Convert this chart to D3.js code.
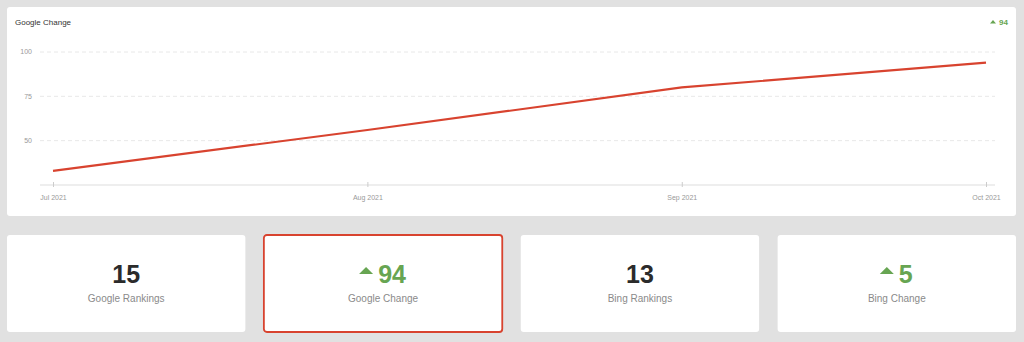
<!DOCTYPE html>
<html>
<head>
<meta charset="utf-8">
<script src="https://cdn.jsdelivr.net/npm/d3@7"></script>
<style>
  body { margin: 0; background: #e1e1e1; font-family: "Liberation Sans", Arial, sans-serif; }
  svg { display: block; }
</style>
</head>
<body>
<svg id="chart" width="1024" height="342"></svg>
<script>
// data
const months = ['2021-07-01', '2021-08-01', '2021-09-01', '2021-10-01']
const googleChange = [33, 56, 80, 94]
const yTicks = [50, 75, 100]
const cardLabels = ['Google Rankings', 'Google Change', 'Bing Rankings', 'Bing Change']
const cardValues = [15, 94, 13, 5]
const cardIsChange = [false, true, false, true]

const red = '#d8432f'
const green = '#67a552'
const parse = d3.timeParse('%Y-%m-%d')

const svg = d3.select('#chart')

// top panel
svg.append('rect')
  .attr('x', 7).attr('y', 7)
  .attr('width', 1009).attr('height', 209)
  .attr('rx', 3)
  .attr('fill', '#fff')

svg.append('text')
  .attr('x', 15).attr('y', 25)
  .attr('fill', '#333')
  .style('font-size', '8px')
  .text('Google Change')

const last = googleChange[googleChange.length - 1]
const hdr = svg.append('g').attr('transform', 'translate(1008,25)')
hdr.append('text')
  .attr('text-anchor', 'end')
  .attr('fill', green)
  .style('font-size', '8px')
  .style('font-weight', 'bold')
  .text(last)
hdr.append('path')
  .attr('d', 'M-18,-1.5 L-12,-1.5 L-15,-5 Z')
  .attr('fill', green)

const x = d3.scaleTime()
  .domain([parse(months[0]), parse(months[months.length - 1])])
  .range([53, 986])

const y = d3.scaleLinear()
  .domain([25, 100])
  .range([185, 52])

// grid
svg.append('g')
  .selectAll('line')
  .data(yTicks)
  .enter()
  .append('line')
  .attr('x1', 40).attr('x2', 995)
  .attr('y1', d => y(d)).attr('y2', d => y(d))
  .attr('stroke', '#e8e8e8')
  .attr('stroke-dasharray', '4,3')

svg.append('g')
  .selectAll('text')
  .data(yTicks)
  .enter()
  .append('text')
  .attr('x', 32)
  .attr('y', d => y(d))
  .attr('dy', '0.35em')
  .attr('text-anchor', 'end')
  .attr('fill', '#999')
  .style('font-size', '7px')
  .text(d => d)

// x axis
const xAxis = svg.append('g')
  .attr('transform', `translate(0,${y(25)})`)
  .call(d3.axisBottom(x)
    .tickValues(months.map(parse))
    .tickFormat(d3.timeFormat('%b %Y'))
    .tickSize(4)
    .tickPadding(6))
xAxis.select('.domain').remove()
xAxis.insert('line', ':first-child')
  .attr('x1', 40).attr('x2', 995)
  .attr('stroke', '#ddd')
xAxis.selectAll('.tick line').attr('stroke', '#ccc').attr('y1', -3).attr('y2', 2)
xAxis.selectAll('.tick text')
  .attr('fill', '#999')
  .style('font-size', '7px')
  .style('font-family', '"Liberation Sans", Arial, sans-serif')

// line
const line = d3.line()
  .x((d, i) => x(parse(months[i])))
  .y(d => y(d))

svg.append('path')
  .datum(googleChange)
  .attr('d', line)
  .attr('fill', 'none')
  .attr('stroke', red)
  .attr('stroke-width', 2.2)

// cards
const cardX = d3.scaleBand()
  .domain(cardLabels)
  .range([7, 1016])
  .paddingInner(0.072)

const cards = svg.selectAll('g.card')
  .data(cardLabels)
  .enter()
  .append('g')
  .attr('class', 'card')
  .attr('transform', d => `translate(${cardX(d)},235)`)

cards.append('rect')
  .attr('width', cardX.bandwidth())
  .attr('height', 97)
  .attr('rx', 3)
  .attr('fill', '#fff')
  .attr('stroke', (d, i) => i === 1 ? red : 'none')
  .attr('stroke-width', 1.8)

const cx = cardX.bandwidth() / 2

cards.append('text')
  .attr('x', (d, i) => cardIsChange[i] ? cx + 9 : cx)
  .attr('y', 48)
  .attr('text-anchor', 'middle')
  .attr('fill', (d, i) => cardIsChange[i] ? green : '#2b2b2b')
  .style('font-size', '25px')
  .style('font-weight', 'bold')
  .text((d, i) => cardValues[i])

cards.filter((d, i) => cardIsChange[i])
  .append('path')
  .attr('d', (d, i) => {
    const w = String(cardValues[cardLabels.indexOf(d)]).length * 14
    const r = cx + 9 - w / 2 - 5
    return `M${r - 14},${39} L${r},${39} L${r - 7},${32} Z`
  })
  .attr('fill', green)

cards.append('text')
  .attr('x', cx)
  .attr('y', 67)
  .attr('text-anchor', 'middle')
  .attr('fill', '#8a8a8a')
  .style('font-size', '10px')
  .text(d => d)
</script>
</body>
</html>
